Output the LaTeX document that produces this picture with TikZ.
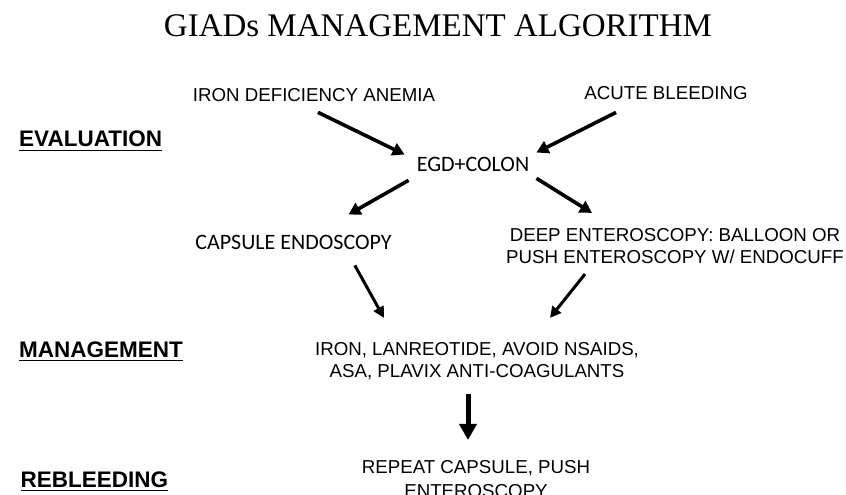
\documentclass[tikz,border=0pt]{standalone}
\usepackage{fontspec}
\setmainfont{Liberation Serif}
\newfontfamily\arialfont{Liberation Sans}
\newfontfamily\calibrifont{Carlito}
\usetikzlibrary{arrows.meta}

\begin{document}
\begin{tikzpicture}[
  x=1bp, y=-1bp,
  every node/.style={inner sep=0pt},
  heading/.style={font=\fontsize{33bp}{36bp}\selectfont, anchor=base},
  plain/.style={font=\arialfont\fontsize{18.7bp}{22.5bp}\selectfont, align=center},
  calib/.style={font=\calibrifont\fontsize{22bp}{26bp}\selectfont, anchor=base},
  section/.style={font=\arialfont\bfseries\fontsize{22.5bp}{26bp}\selectfont, anchor=base west,
    append after command={([yshift=-3bp]\tikzlastnode.south west) edge[line width=1.8bp] ([yshift=-3bp]\tikzlastnode.south east)}},
  arrow/.style={-{Triangle[length=12bp,width=13bp]}, line width=3.6bp},
  thinarrow/.style={-{Triangle[length=11bp,width=11bp]}, line width=3bp},
  bigarrow/.style={-{Triangle[length=16bp,width=17bp]}, line width=5bp}
]
\useasboundingbox (0,0) rectangle (846,495);
\clip (0,0) rectangle (846,495);

\node[heading] (title) at (438,37) {GIADs MANAGEMENT ALGORITHM};

% evaluation
\node[section] (evaluation) at (19,147) {EVALUATION};
\node[plain, anchor=base] (anemia) at (314,102) {IRON DEFICIENCY ANEMIA};
\node[plain, anchor=base] (acute) at (666,100) {ACUTE BLEEDING};
\node[calib] (egd) at (473,172) {EGD+COLON};
\node[calib] (capsule) at (293.5,250) {CAPSULE ENDOSCOPY};
\node[plain] (deep) at (675,246) {DEEP ENTEROSCOPY: BALLOON OR\\PUSH ENTEROSCOPY W/ ENDOCUFF};

\draw[arrow] ([shift={(4,10)}]anemia.south) -- ([shift={(-12,-3)}]egd.north west);
\draw[arrow] ([shift={(-50,12)}]acute.south) -- ([shift={(7,-5)}]egd.north east);
\draw[arrow] ([shift={(-8,8)}]egd.south west) -- ([shift={(55,-21)}]capsule.north);
\draw[arrow] ([shift={(7,6)}]egd.south east) -- ([shift={(-83,-15)}]deep.north);

% management
\node[section] (management) at (19,357) {MANAGEMENT};
\node[plain] (meds) at (477,361) {IRON, LANREOTIDE, AVOID NSAIDS,\\ASA, PLAVIX ANTI-COAGULANTS};
\draw[thinarrow] ([shift={(-37,15)}]capsule.south east) -- ([shift={(69,-24)}]meds.north west);
\draw[thinarrow] ([shift={(-90,10)}]deep.south) -- ([shift={(73,-24)}]meds.north);

% rebleeding
\node[section] (rebleeding) at (20.5,487) {REBLEEDING};
\node[plain, font=\arialfont\fontsize{18.7bp}{24.5bp}\selectfont] (repeat) at (476,479) {REPEAT CAPSULE, PUSH\\ENTEROSCOPY};
\draw[bigarrow] ([shift={(-9,14)}]meds.south) -- ([shift={(-8,-20)}]repeat.north);
\end{tikzpicture}
\end{document}
